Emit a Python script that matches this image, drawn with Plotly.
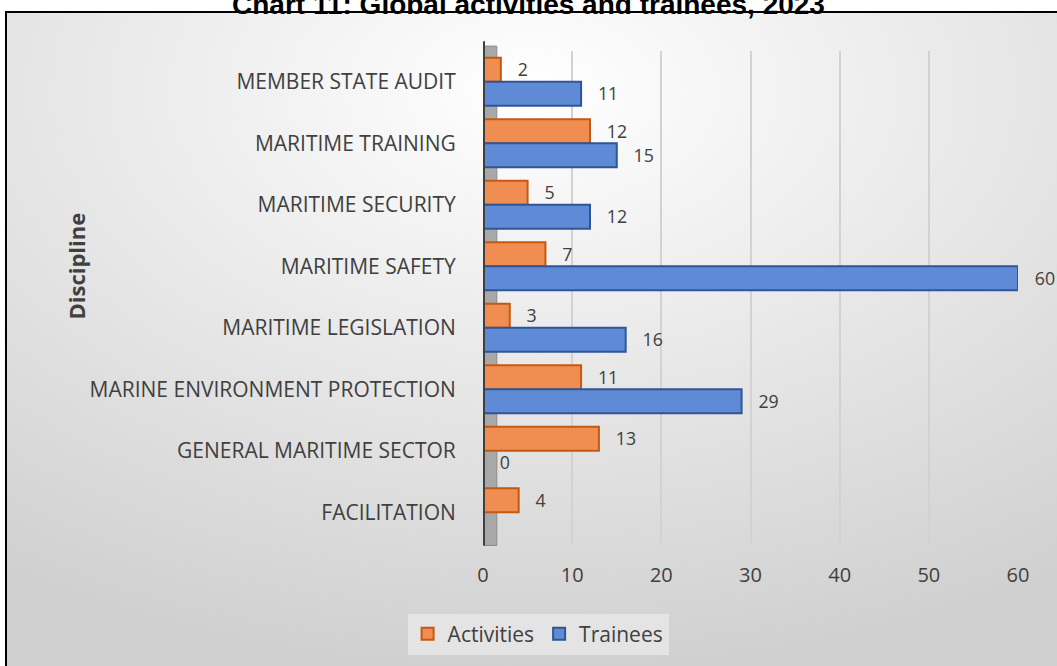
import base64

import plotly.graph_objects as go

categories = [
    "MEMBER STATE AUDIT",
    "MARITIME TRAINING",
    "MARITIME SECURITY",
    "MARITIME SAFETY",
    "MARITIME LEGISLATION",
    "MARINE ENVIRONMENT PROTECTION",
    "GENERAL MARITIME SECTOR",
    "FACILITATION",
]
activities = [2, 12, 5, 7, 3, 11, 13, 4]
trainees = [11, 15, 12, 60, 16, 29, 0, None]
x_ticks = [0, 10, 20, 30, 40, 50, 60]

TEXT = "#404040"
FONT = "Open Sans"
PAD = "\u00a0" * 3  # room for the 3D depth before each value label

# soft radial gradient for the chart area background
svg = (
    '<svg xmlns="http://www.w3.org/2000/svg" width="200" height="200" '
    'viewBox="0 0 200 200" preserveAspectRatio="none">'
    '<defs><radialGradient id="g" cx="0.5" cy="0.12" r="0.9">'
    '<stop offset="0" stop-color="#ffffff"/>'
    '<stop offset="1" stop-color="#cfcfcf"/>'
    "</radialGradient></defs>"
    '<rect width="200" height="200" fill="url(#g)"/></svg>'
)
bg_src = "data:image/svg+xml;base64," + base64.b64encode(svg.encode()).decode()

fig = go.Figure()
fig.add_trace(
    go.Bar(
        y=categories,
        x=activities,
        orientation="h",
        name="Activities",
        marker=dict(color="#F08D50", line=dict(color="#C65911", width=2)),
        text=[PAD + str(v) for v in activities],
        textposition="outside",
        textfont=dict(family=FONT, size=20, color=TEXT),
        cliponaxis=False,
    )
)
fig.add_trace(
    go.Bar(
        y=categories,
        x=trainees,
        orientation="h",
        name="Trainees",
        marker=dict(color="#5F8BD6", line=dict(color="#2F5597", width=2)),
        text=[("" if v is None else PAD + str(v)) for v in trainees],
        textposition="outside",
        textfont=dict(family=FONT, size=20, color=TEXT),
        cliponaxis=False,
    )
)

# border box, 3D wall and axis line
shapes = [
    dict(type="rect", xref="paper", yref="paper", x0=-0.8916, x1=1.0785,
         y0=-0.2556, y1=1.0791, line=dict(color="black", width=2),
         fillcolor="rgba(0,0,0,0)", layer="below"),
    dict(type="rect", xref="x", yref="paper", x0=0, x1=1.55, y0=-0.005, y1=1.01,
         line=dict(color="#8c8c8c", width=1), fillcolor="#a8a8a8", layer="below"),
    dict(type="line", xref="x", yref="paper", x0=0, x1=0, y0=-0.005, y1=1.02,
         line=dict(color="#404040", width=4), layer="above"),
]

fig.update_layout(
    width=1057,
    height=666,
    margin=dict(l=483, r=39, t=51, b=122),
    paper_bgcolor="white",
    plot_bgcolor="rgba(0,0,0,0)",
    barmode="group",
    bargap=0.22,
    bargroupgap=0.0,
    font=dict(family=FONT, size=20, color=TEXT),
    xaxis=dict(
        range=[0, 60],
        tickvals=x_ticks,
        showgrid=True,
        gridcolor="#d2d2d2",
        gridwidth=1.5,
        zeroline=False,
        showline=False,
        ticks="outside",
        ticklen=14,
        tickcolor="rgba(0,0,0,0)",
        tickfont=dict(family=FONT, size=20, color=TEXT),
    ),
    yaxis=dict(
        categoryorder="array",
        categoryarray=categories,
        autorange="reversed",
        showgrid=False,
        zeroline=False,
        ticks="outside",
        ticklen=22,
        tickcolor="rgba(0,0,0,0)",
        tickfont=dict(family=FONT, size=21, color=TEXT),
    ),
    legend=dict(
        orientation="h",
        x=0.103, xanchor="center",
        y=-0.183, yanchor="middle",
        bgcolor="#e4e4e4",
        font=dict(family=FONT, size=21, color=TEXT),
        itemsizing="constant",
    ),
    annotations=[
        dict(text="<b>Chart 11: Global activities and trainees, 2023</b>",
             xref="paper", yref="paper", x=0.085, y=1.0943,
             xanchor="center", yanchor="middle", showarrow=False,
             font=dict(family="Liberation Sans", size=28, color="black")),
        dict(text="<b>Discipline</b>", xref="paper", yref="paper",
             x=-0.7925, y=0.562, textangle=-90, showarrow=False,
             font=dict(family=FONT, size=22, color=TEXT)),
    ],
    shapes=shapes,
    images=[
        dict(source=bg_src, xref="paper", yref="paper", x=-0.8916, y=1.0791,
             sizex=1.97, sizey=1.335, sizing="stretch", xanchor="left",
             yanchor="top", layer="below"),
    ],
)

fig.write_html(
    "out.html",
    config={"displayModeBar": False},
    post_script="document.body.style.margin='0';document.body.style.overflow='hidden';",
)
